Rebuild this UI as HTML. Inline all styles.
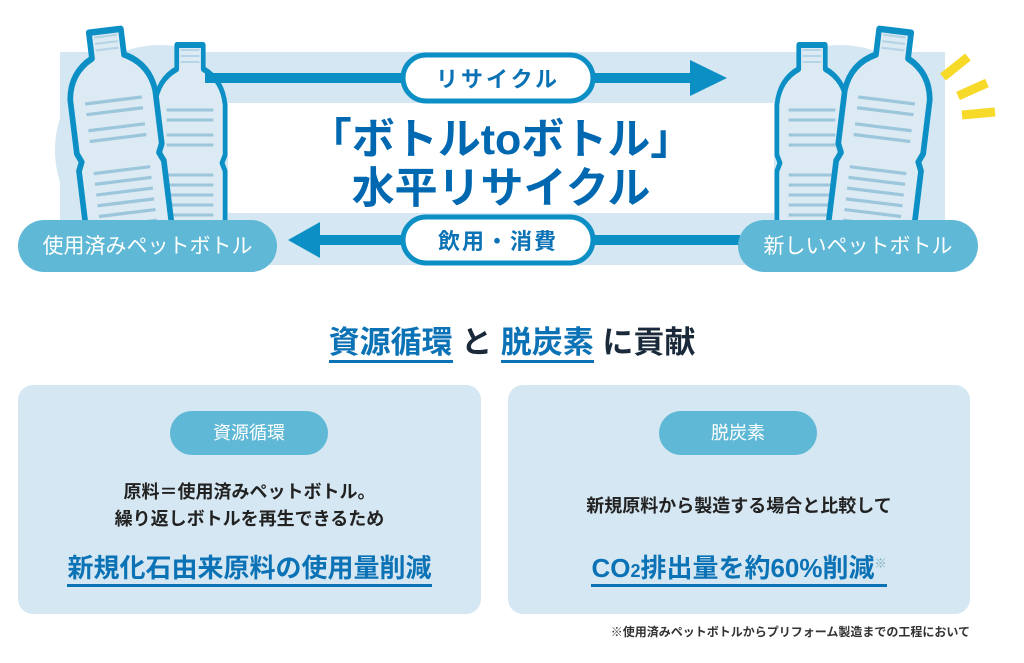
<!DOCTYPE html>
<html><head><meta charset="utf-8"><style>
body{margin:0;width:1024px;height:663px;background:#fff;position:relative;overflow:hidden;font-family:"Liberation Sans","Noto Sans CJK JP",sans-serif}
.a{position:absolute}
.t{position:absolute;white-space:nowrap;text-align:center}
</style></head><body>
<svg class="a" style="left:0;top:0" width="1024" height="300">
<defs>
<g id="bot">
<path d="M-17,-100 L17,-100 L17,-76 Q42,-65 45,-40 L45,10 L41,18 L45,26 L45,110 L-45,110 L-45,26 L-41,18 L-45,10 L-45,-40 Q-42,-65 -17,-76 Z" fill="#dbeaf3" stroke="#0b8fc5" stroke-width="6" stroke-linejoin="round"/>
<g stroke="#9cc6dc" stroke-width="3">
<line x1="-30" y1="-35" x2="30" y2="-35"/><line x1="-30" y1="-25" x2="30" y2="-25"/>
<line x1="-30" y1="-10" x2="30" y2="-10"/><line x1="-30" y1="0" x2="30" y2="0"/>
<line x1="-30" y1="30" x2="30" y2="30"/><line x1="-30" y1="40" x2="30" y2="40"/>
<line x1="-30" y1="50" x2="30" y2="50"/><line x1="-30" y1="60" x2="30" y2="60"/>
<line x1="-30" y1="70" x2="30" y2="70"/><line x1="-30" y1="80" x2="30" y2="80"/>
<line x1="-30" y1="92" x2="30" y2="92"/><line x1="-30" y1="102" x2="30" y2="102"/>
</g>
<g stroke="#b5d4e6" stroke-width="2"><line x1="-12" y1="-95" x2="12" y2="-95"/><line x1="-12" y1="-89" x2="12" y2="-89"/><line x1="-12" y1="-83" x2="12" y2="-83"/></g>
</g>
</defs>
<rect x="60" y="52" width="885" height="213" fill="#d5e7f2"/>
<circle cx="160" cy="150" r="105" fill="#d5e7f2"/>
<circle cx="840" cy="150" r="105" fill="#d5e7f2"/>
<rect x="228" y="103" width="546" height="110" fill="#fff"/>
<use href="#bot" transform="translate(190,145) scale(0.78,1)"/>
<use href="#bot" transform="translate(118,138) rotate(-7) scale(0.95,1.08)"/>
<use href="#bot" transform="translate(812,145) scale(0.78,1)"/>
<use href="#bot" transform="translate(882,138) rotate(7) scale(0.95,1.08)"/>
<g stroke="#f7d92a" stroke-width="9"><line x1="943" y1="77" x2="968" y2="57"/><line x1="958" y1="96" x2="987" y2="83"/><line x1="962" y1="115" x2="995" y2="112"/></g>
<line x1="205" y1="78" x2="695" y2="78" stroke="#0b8fc5" stroke-width="10"/>
<polygon points="690,60 727,78 690,96" fill="#0b8fc5"/>
<line x1="310" y1="240" x2="740" y2="240" stroke="#0b8fc5" stroke-width="10"/>
<polygon points="320,222 288,240 320,258" fill="#0b8fc5"/>
<rect x="403" y="55" width="190" height="46" rx="23" fill="#fff" stroke="#0b8fc5" stroke-width="5"/>
<rect x="403" y="217" width="190" height="46" rx="23" fill="#fff" stroke="#0b8fc5" stroke-width="5"/>
<rect x="18" y="220" width="259" height="52" rx="26" fill="#5fb8d5"/>
<rect x="738" y="220" width="240" height="52" rx="26" fill="#5fb8d5"/>
</svg>
<div class="t" style="left:403px;top:62px;width:190px;font-size:22px;font-weight:bold;color:#0b72b5;letter-spacing:3px">リサイクル</div>
<div class="t" style="left:403px;top:224px;width:190px;font-size:22px;font-weight:bold;color:#0b72b5;letter-spacing:2px">飲用・消費</div>
<div class="t" style="left:18px;top:230px;width:259px;font-size:21px;color:#fff">使用済みペットボトル</div>
<div class="t" style="left:738px;top:230px;width:240px;font-size:21px;color:#fff">新しいペットボトル</div>
<div class="t" style="left:228px;top:116px;width:546px;font-size:43px;line-height:49px;font-weight:bold;color:#0068b0">「ボトルtoボトル」<br>水平リサイクル</div>

<div class="t" style="left:0;top:317px;width:1024px;font-size:31px;font-weight:bold;color:#1a2a3a"><span style="color:#0b72b5;border-bottom:3px solid #0b72b5">資源循環</span> と <span style="color:#0b72b5;border-bottom:3px solid #0b72b5">脱炭素</span> に貢献</div>

<div class="a" style="left:18px;top:385px;width:463px;height:229px;background:#d5e7f2;border-radius:15px"></div>
<div class="a" style="left:508px;top:385px;width:462px;height:229px;background:#d5e7f2;border-radius:15px"></div>
<div class="t" style="left:170px;top:411px;width:158px;height:44px;line-height:44px;border-radius:22px;background:#5fb8d5;color:#fff;font-size:18px">資源循環</div>
<div class="t" style="left:659px;top:411px;width:158px;height:44px;line-height:44px;border-radius:22px;background:#5fb8d5;color:#fff;font-size:18px">脱炭素</div>
<div class="t" style="left:18px;top:479px;width:463px;font-size:18px;line-height:27px;font-weight:bold;color:#222">原料＝使用済みペットボトル。<br>繰り返しボトルを再生できるため</div>
<div class="t" style="left:508px;top:492px;width:462px;font-size:18px;font-weight:bold;color:#222">新規原料から製造する場合と比較して</div>
<div class="t" style="left:18px;top:548px;width:463px;font-size:26px;font-weight:bold;color:#0b72b5"><span style="border-bottom:3px solid #0b72b5;padding-bottom:1px">新規化石由来原料の使用量削減</span></div>
<div class="t" style="left:508px;top:548px;width:462px;font-size:26px;font-weight:bold;color:#0b72b5"><span style="border-bottom:3px solid #0b72b5;padding-bottom:1px">CO<span style="font-size:18px">2</span>排出量を約60%削減<sup style="font-size:12px;color:#7ab">※</sup></span></div>
<div class="t" style="left:570px;top:623px;width:400px;text-align:right;font-size:12px;font-weight:bold;color:#333">※使用済みペットボトルからプリフォーム製造までの工程において</div>
</body></html>
